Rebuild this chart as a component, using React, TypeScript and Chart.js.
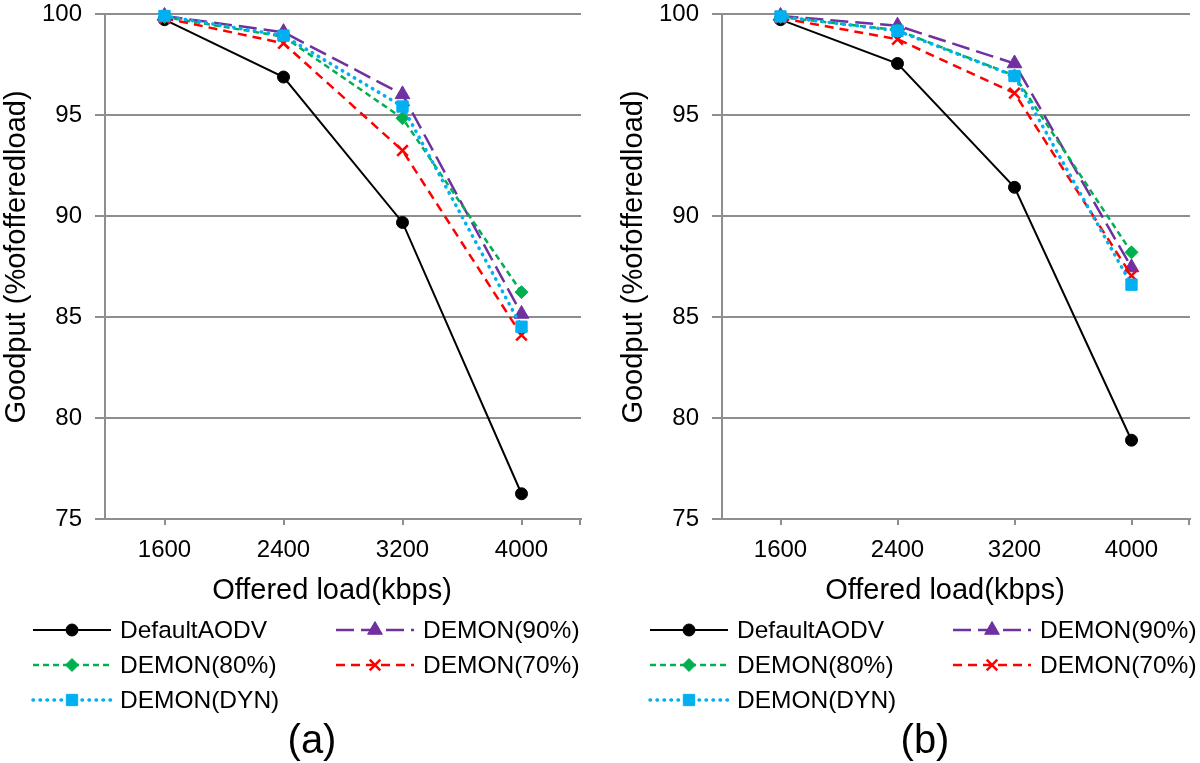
import React, { useEffect, useRef } from 'react';
import { Chart, registerables } from 'chart.js';

Chart.register(...registerables);

// ---------------- data ----------------
const categories = ['1600', '2400', '3200', '4000'];
const yMin = 75;
const yMax = 100;
const yStep = 5;
const seriesNames = ['DefaultAODV', 'DEMON(90%)', 'DEMON(80%)', 'DEMON(70%)', 'DEMON(DYN)'];

// panel (a)
const aDefaultAODV = [99.72, 96.88, 89.68, 76.25];
const aDemon90 = [99.9, 99.1, 96.02, 85.15];
const aDemon80 = [99.85, 98.88, 94.84, 86.23];
const aDemon70 = [99.8, 98.55, 93.24, 84.1];
const aDemonDyn = [99.9, 98.93, 95.42, 84.52];

// panel (b)
const bDefaultAODV = [99.72, 97.55, 91.42, 78.9];
const bDemon90 = [99.9, 99.42, 97.55, 87.45];
const bDemon80 = [99.85, 99.2, 96.95, 88.2];
const bDemon70 = [99.8, 98.75, 96.08, 87.05];
const bDemonDyn = [99.88, 99.17, 96.93, 86.6];

const xTitle = 'Offered load(kbps)';
const yTitle = 'Goodput (%ofofferedload)';

// ---------------- styles ----------------
const FONT = "'Liberation Sans', Arial, Helvetica, sans-serif";
const GRID = '#8e8e8e';

type SeriesStyle = {
  color: string;
  dash: number[];
  width: number;
  cap: CanvasLineCap;
  point: string;
  radius: number;
  pbw: number;
};

const seriesStyles: SeriesStyle[] = [
  { color: '#000000', dash: [], width: 2, cap: 'butt', point: 'circle', radius: 6, pbw: 1 },
  { color: '#7030A0', dash: [18, 7], width: 2.5, cap: 'butt', point: 'triangle', radius: 8.5, pbw: 1 },
  { color: '#00B050', dash: [6, 4], width: 2.5, cap: 'butt', point: 'rectRot', radius: 6.5, pbw: 1 },
  { color: '#FF0000', dash: [9, 6], width: 2.5, cap: 'butt', point: 'crossRot', radius: 7.5, pbw: 2.5 },
  { color: '#00B0F0', dash: [0.5, 6.5], width: 3.5, cap: 'round', point: 'rect', radius: 8, pbw: 1 },
];

function drawMarker(ctx: CanvasRenderingContext2D, st: SeriesStyle, x: number, y: number) {
  const r = st.radius;
  ctx.save();
  ctx.setLineDash([]);
  ctx.fillStyle = st.color;
  ctx.strokeStyle = st.color;
  ctx.lineWidth = st.pbw;
  ctx.beginPath();
  if (st.point === 'circle') {
    ctx.arc(x, y, r, 0, Math.PI * 2);
  } else if (st.point === 'triangle') {
    ctx.moveTo(x, y - r);
    ctx.lineTo(x + r * Math.sin((2 * Math.PI) / 3), y - r * Math.cos((2 * Math.PI) / 3));
    ctx.lineTo(x + r * Math.sin((4 * Math.PI) / 3), y - r * Math.cos((4 * Math.PI) / 3));
    ctx.closePath();
  } else if (st.point === 'rectRot') {
    ctx.moveTo(x - r, y);
    ctx.lineTo(x, y - r);
    ctx.lineTo(x + r, y);
    ctx.lineTo(x, y + r);
    ctx.closePath();
  } else if (st.point === 'rect') {
    const s = r * Math.SQRT1_2;
    ctx.rect(x - s, y - s, 2 * s, 2 * s);
  } else if (st.point === 'crossRot') {
    const d = r * Math.SQRT1_2;
    ctx.moveTo(x - d, y - d);
    ctx.lineTo(x + d, y + d);
    ctx.moveTo(x + d, y - d);
    ctx.lineTo(x - d, y + d);
    ctx.stroke();
    ctx.restore();
    return;
  }
  ctx.fill();
  ctx.stroke();
  ctx.restore();
}

const bottomDecor = {
  id: 'bottomDecor',
  afterDraw(chart: any, _args: any, opts: any) {
    const ctx: CanvasRenderingContext2D = chart.ctx;
    const { left, right, bottom } = chart.chartArea;
    ctx.save();
    // right-end tick on x axis
    ctx.strokeStyle = GRID;
    ctx.lineWidth = 2;
    ctx.beginPath();
    ctx.moveTo(right - 1, bottom);
    ctx.lineTo(right - 1, bottom + 6);
    ctx.stroke();

    // y-axis title
    ctx.save();
    ctx.translate(17, 257);
    ctx.rotate(-Math.PI / 2);
    ctx.fillStyle = '#000';
    ctx.font = `29px ${FONT}`;
    ctx.textAlign = 'center';
    ctx.textBaseline = 'middle';
    ctx.fillText(opts.yTitle, 0, 0);
    ctx.restore();

    const cx = (left + right) / 2 - 11;
    // x-axis title
    ctx.fillStyle = '#000';
    ctx.font = `29px ${FONT}`;
    ctx.textAlign = 'center';
    ctx.textBaseline = 'middle';
    ctx.fillText(opts.xTitle, cx, 591);

    // legend
    const colX = [33, 336];
    const rowY = [630, 665, 700];
    const lineLen = 78;
    ctx.font = `24.5px ${FONT}`;
    ctx.textAlign = 'left';
    seriesNames.forEach((name, i) => {
      const st = seriesStyles[i];
      const x0 = colX[i % 2];
      const y = rowY[Math.floor(i / 2)];
      ctx.save();
      ctx.strokeStyle = st.color;
      ctx.lineWidth = st.width;
      ctx.lineCap = st.cap;
      ctx.setLineDash(st.dash);
      ctx.beginPath();
      ctx.moveTo(x0, y);
      ctx.lineTo(x0 + lineLen, y);
      ctx.stroke();
      ctx.restore();
      drawMarker(ctx, st, x0 + lineLen / 2, y);
      ctx.fillStyle = '#000';
      ctx.fillText(name, x0 + 87, y + 1);
    });

    // panel label
    ctx.font = `40px ${FONT}`;
    ctx.textAlign = 'center';
    ctx.fillText(opts.label, cx - 20, 742);
    ctx.restore();
  },
};

function makeDatasets(values: number[][]) {
  return values.map((vals, i) => {
    const st = seriesStyles[i];
    return {
      label: seriesNames[i],
      data: vals,
      borderColor: st.color,
      backgroundColor: st.color,
      borderWidth: st.width,
      borderDash: st.dash,
      borderCapStyle: st.cap,
      pointStyle: st.point,
      pointRadius: st.radius,
      pointHoverRadius: st.radius,
      pointBorderWidth: st.pbw,
      pointBackgroundColor: st.color,
      pointBorderColor: st.color,
      tension: 0,
      fill: false,
      clip: false as any,
      order: 5 - i,
    };
  });
}

type PanelProps = { left: number; width: number; rightPad: number; label: string; values: number[][] };

function Panel({ left, width, rightPad, label, values }: PanelProps) {
  const ref = useRef<HTMLCanvasElement | null>(null);
  useEffect(() => {
    if (!ref.current) return;
    const chart = new Chart(ref.current, {
      type: 'line',
      data: { labels: categories, datasets: makeDatasets(values) as any },
      options: {
        responsive: false,
        animation: false,
        devicePixelRatio: 1,
        layout: { padding: { left: 0, right: rightPad, top: 14, bottom: 0 } },
        plugins: {
          legend: { display: false },
          tooltip: { enabled: false },
          bottomDecor: { xTitle, yTitle, label },
        } as any,
        scales: {
          x: {
            type: 'category',
            offset: true,
            grid: {
              display: true,
              drawOnChartArea: false,
              drawTicks: true,
              tickLength: 6,
              color: GRID,
              lineWidth: 2,
              offset: false,
            },
            border: { display: true, color: GRID, width: 2 },
            ticks: {
              color: '#000',
              font: { size: 24, family: FONT },
              padding: 11,
              maxRotation: 0,
            },
            afterFit: (scale: any) => {
              scale.height = 244;
              scale.paddingLeft = 0;
              scale.paddingRight = 0;
            },
          },
          y: {
            min: yMin,
            max: yMax,
            grid: {
              color: GRID,
              lineWidth: 2,
              drawTicks: true,
              tickLength: 10,
            },
            border: { display: true, color: GRID, width: 2 },
            ticks: {
              stepSize: yStep,
              color: '#000',
              font: { size: 24, family: FONT },
              padding: 13,
            },
            afterFit: (scale: any) => {
              scale.width = 105;
              scale.paddingTop = 0;
              scale.paddingBottom = 0;
            },
          },
        },
      } as any,
      plugins: [bottomDecor as any],
    });
    return () => chart.destroy();
  }, []);
  return (
    <canvas
      ref={ref}
      width={width}
      height={763}
      style={{ position: 'absolute', left, top: 0, width, height: 763, display: 'block' }}
    />
  );
}

export default function App() {
  return (
    <div style={{ position: 'absolute', left: 0, top: 0, width: 1200, height: 763, background: '#fff', overflow: 'hidden' }}>
      <Panel
        left={0}
        width={617}
        rightPad={36}
        label="(a)"
        values={[aDefaultAODV, aDemon90, aDemon80, aDemon70, aDemonDyn]}
      />
      <Panel
        left={617}
        width={583}
        rightPad={1}
        label="(b)"
        values={[bDefaultAODV, bDemon90, bDemon80, bDemon70, bDemonDyn]}
      />
    </div>
  );
}
